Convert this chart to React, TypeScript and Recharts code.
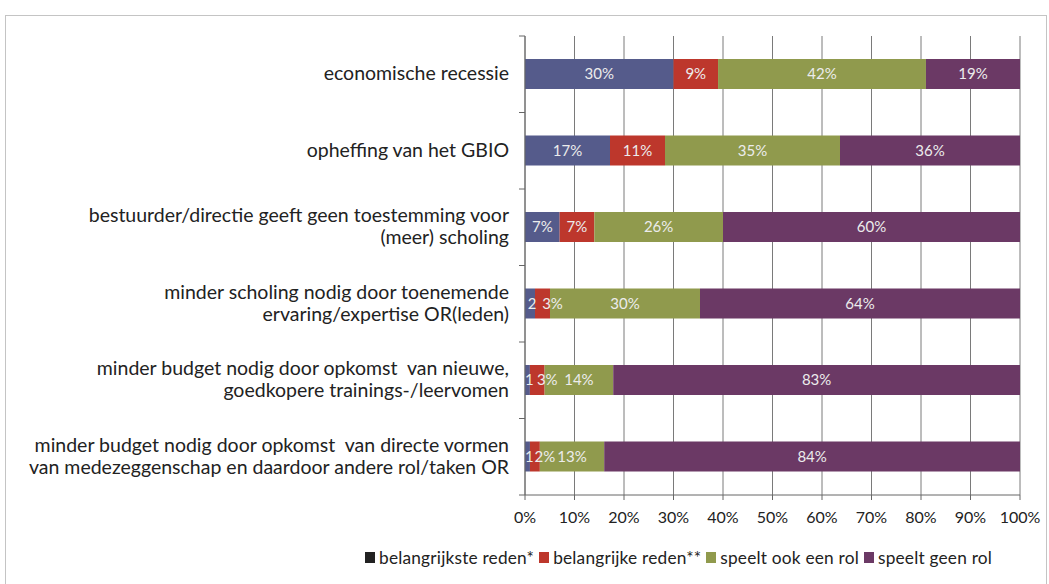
import React from "react";
import { BarChart, Bar, XAxis, YAxis, CartesianGrid, LabelList } from "recharts";

const categories: string[][] = [
  ["economische recessie"],
  ["opheffing van het GBIO"],
  ["bestuurder/directie geeft geen toestemming voor", "(meer) scholing"],
  ["minder scholing nodig door toenemende", "ervaring/expertise OR(leden)"],
  ["minder budget nodig door opkomst  van nieuwe,", "goedkopere trainings-/leervomen"],
  ["minder budget nodig door opkomst  van directe vormen", "van medezeggenschap en daardoor andere rol/taken OR"],
];

const belangrijkste = [30, 17, 7, 2, 1, 1];
const belangrijke = [9, 11, 7, 3, 3, 2];
const speeltOok = [42, 35, 26, 30, 14, 13];
const speeltGeen = [19, 36, 60, 64, 83, 84];

const xTicks = [0, 10, 20, 30, 40, 50, 60, 70, 80, 90, 100];

const seriesNames = ["belangrijkste reden*", "belangrijke reden**", "speelt ook een rol", "speelt geen rol"];
const seriesColors = ["#555b8b", "#bd372c", "#909a4d", "#6b3965"];
const legendColors = ["#222222", "#bd372c", "#909a4d", "#6b3965"];

const data = categories.map((lines, i) => ({
  name: String(i),
  lines,
  s0: belangrijkste[i],
  s1: belangrijke[i],
  s2: speeltOok[i],
  s3: speeltGeen[i],
}));

const FONT = "Lato, 'Open Sans', sans-serif";

const W = 1049;
const H = 584;
const MARGIN = { top: 36, right: 29, left: 5, bottom: 49 };
const XAXIS_H = 40;
const YAXIS_W = 520;
const BAND = (H - MARGIN.top - MARGIN.bottom - XAXIS_H) / categories.length;
const AXIS_X = MARGIN.left + YAXIS_W;

const CategoryTick = (props: any) => {
  const { y, payload } = props;
  const idx = Number(payload.value);
  const lines: string[] = data[idx].lines;
  const lh = 22;
  const start = -((lines.length - 1) * lh) / 2;
  return (
    <g>
      <line x1={AXIS_X - 6} x2={AXIS_X} y1={y - BAND / 2} y2={y - BAND / 2} stroke="#666" />
      {idx === categories.length - 1 && (
        <line x1={AXIS_X - 6} x2={AXIS_X} y1={y + BAND / 2} y2={y + BAND / 2} stroke="#666" />
      )}
      {lines.map((l, k) => (
        <text
          key={k}
          x={509}
          y={y + start + k * lh}
          dy={6}
          textAnchor="end"
          fontSize={19.5}
          fontFamily={FONT}
          fill="#222"
          style={{ whiteSpace: "pre" }}
        >
          {l}
        </text>
      ))}
    </g>
  );
};

const makeLabel = (seriesIndex: number) => (props: any) => {
  const { x, y, width, height, value, index } = props;
  const smallFirst = belangrijkste[index] < 3;
  let shift = 0;
  if (smallFirst && seriesIndex === 0) shift = 2;
  if (smallFirst && seriesIndex === 1) shift = 10;
  const txt = seriesIndex === 0 && value < 3 ? `${value}` : `${value}%`;
  return (
    <text
      x={x + width / 2 + shift}
      y={y + height / 2}
      dy={5}
      textAnchor="middle"
      fontSize={15}
      fontFamily={FONT}
      fill="#ececec"
    >
      {txt}
    </text>
  );
};

export default function App() {
  return (
    <div style={{ position: "absolute", left: 0, top: 0, width: W, height: H, background: "#fff", overflow: "hidden" }}>
      <div
        style={{
          position: "absolute",
          left: 5,
          top: 15,
          width: 1042,
          height: 620,
          border: "1px solid #c4c4c4",
          boxSizing: "border-box",
        }}
      />
      <div style={{ position: "absolute", left: 0, top: 0 }}>
        <BarChart
          width={W}
          height={H}
          data={data}
          layout="vertical"
          stackOffset="expand"
          margin={MARGIN}
          barSize={30}
        >
          <CartesianGrid horizontal={false} vertical={true} stroke="#7a7a7a" strokeWidth={1} />
          <XAxis
            type="number"
            domain={[0, 1]}
            ticks={xTicks.map((t) => t / 100)}
            tickFormatter={(v) => `${Math.round(v * 100)}%`}
            height={XAXIS_H}
            stroke="#666"
            tickSize={5}
            tick={{ fill: "#222", fontSize: 16, fontFamily: FONT, dy: 10 }}
            interval={0}
          />
          <YAxis
            type="category"
            dataKey="name"
            width={YAXIS_W}
            stroke="#666"
            tickLine={false}
            tick={<CategoryTick />}
            interval={0}
          />
          {["s0", "s1", "s2", "s3"].map((k, i) => (
            <Bar key={k} dataKey={k} stackId="a" fill={seriesColors[i]} isAnimationActive={false} name={seriesNames[i]}>
              <LabelList dataKey={k} content={makeLabel(i)} />
            </Bar>
          ))}
        </BarChart>
      </div>
      <div
        style={{
          position: "absolute",
          left: 365,
          top: 547,
          display: "flex",
          alignItems: "center",
          fontFamily: FONT,
          fontSize: 17.3,
          color: "#222",
          whiteSpace: "nowrap",
          letterSpacing: 0.2,
        }}
      >
        {seriesNames.map((n, i) => (
          <span key={n} style={{ display: "flex", alignItems: "center", marginRight: 5 }}>
            <span style={{ display: "inline-block", width: 10, height: 11, background: legendColors[i], marginRight: 4 }} />
            {n}
          </span>
        ))}
      </div>
    </div>
  );
}
